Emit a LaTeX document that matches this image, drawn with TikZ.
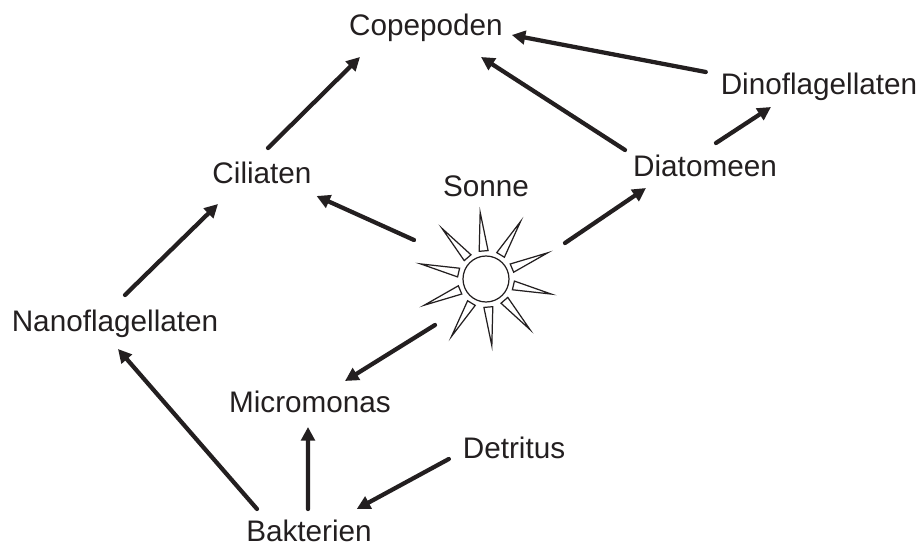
\documentclass[tikz,border=0pt]{standalone}
\usepackage{fontspec}
\setmainfont{Liberation Sans}
\usetikzlibrary{arrows.meta, calc}
\definecolor{clrink}{HTML}{231F20}

\begin{document}
\begin{tikzpicture}[
    >={Triangle[length=0.27cm,width=0.27cm]},
    organism/.style={anchor=base, inner sep=0, outer sep=0, text height=0.42cm, text depth=0.12cm,
                     font=\fontsize{16.9}{18}\selectfont, text=clrink},
    arrow/.style={->, color=clrink, line width=0.085cm, line cap=round},
    ray/.style={draw=clrink, line width=0.7pt, fill=white, line join=miter},
]
\useasboundingbox (0,0) rectangle (18.44,10.96);
\node[organism] (n_cope) at (8.52,10.24) {Copepoden};
\node[organism] (n_dino) at (16.38,9.06) {Dinoflagellaten};
\node[organism] (n_cili) at (5.24,7.28) {Ciliaten};
\node[organism] (n_sonne) at (9.72,7.02) {Sonne};
\node[organism] (n_diat) at (14.10,7.44) {Diatomeen};
\node[organism] (n_nano) at (2.30,4.34) {Nanoflagellaten};
\node[organism] (n_micro) at (6.20,2.72) {Micromonas};
\node[organism] (n_detr) at (10.28,1.80) {Detritus};
\node[organism] (n_bakt) at (6.18,0.14) {Bakterien};
\node[circle, draw=clrink, line width=0.7pt, inner sep=0, minimum size=0.92cm] (n_sun) at (9.72,5.38) {};
% sun rays
\foreach \a in {0,36,...,324} {
    \draw[ray] ($(n_sun.center)+(95-\a+8.8:0.57)$) -- ($(n_sun.center)+(95-\a:1.34)$)
        -- ($(n_sun.center)+(95-\a-9.2:0.57)$) -- cycle;
}
\draw[arrow] ([shift={(-1.04,0.22)}]n_bakt.north) -- ([shift={(0.06,-0.24)}]n_nano.south);
\draw[arrow] ([shift={(-0.02,0.22)}]n_bakt.north) -- ([shift={(-0.04,-0.18)}]n_micro.south);
\draw[arrow] ([shift={(-0.28,-0.17)}]n_detr.west) -- ([shift={(-0.30,0.22)}]n_bakt.north east);
\draw[arrow] ([shift={(-1.02,-0.92)}]n_sun.center) -- ([shift={(0.70,0.20)}]n_micro.north);
\draw[arrow] ([shift={(-1.44,0.78)}]n_sun.center) -- ([shift={(0.10,-0.39)}]n_cili.east);
\draw[arrow] ([shift={(1.58,0.72)}]n_sun.center) -- ([shift={(-1.18,-0.12)}]n_diat.south);
\draw[arrow] ([shift={(0.20,0.30)}]n_nano.north) -- ([shift={(-0.88,-0.28)}]n_cili.south);
\draw[arrow] ([shift={(0.12,0.30)}]n_cili.north) -- ([shift={(-1.32,-0.30)}]n_cope.south);
\draw[arrow] ([shift={(-1.60,0.10)}]n_diat.north) -- ([shift={(1.10,-0.30)}]n_cope.south);
\draw[arrow] ([shift={(-0.30,0.31)}]n_dino.west) -- ([shift={(0.18,-0.13)}]n_cope.east);
\draw[arrow] ([shift={(0.22,0.24)}]n_diat.north) -- ([shift={(-0.96,-0.12)}]n_dino.south);
\end{tikzpicture}
\end{document}
